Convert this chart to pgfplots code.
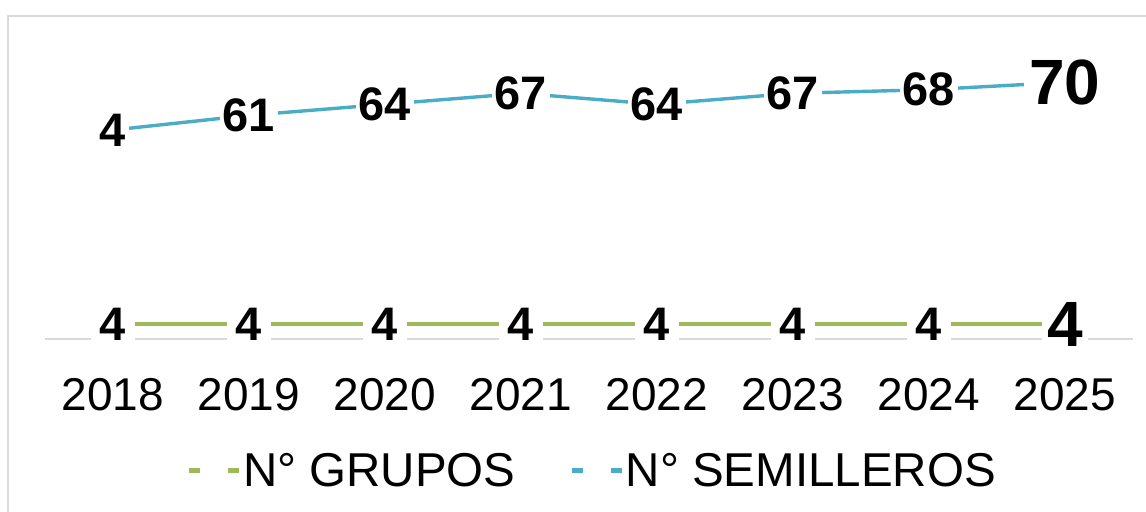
\documentclass[border=0pt]{standalone}
\usepackage{pgfplots}
\pgfplotsset{compat=1.18}
\usepackage{fontspec}
\setmainfont{Liberation Sans}
\definecolor{cgreen}{HTML}{9BBB59}
\definecolor{cblue}{HTML}{4BACC6}
\definecolor{cgray}{HTML}{D9D9D9}
\newcommand\lblfont{\fontsize{47bp}{47bp}\selectfont\bfseries}
\newcommand\bigfont{\fontsize{64bp}{64bp}\selectfont\bfseries}
\newcommand\tickfont{\fontsize{46bp}{46bp}\selectfont}
\newcommand\legfont{\fontsize{47.5bp}{47.5bp}\selectfont}
\begin{document}
\begin{tikzpicture}[x=1bp,y=1bp]
\useasboundingbox (0,0) rectangle (1146,512);
\draw[cgray, line width=1.5bp] (8,-20) -- (8,496) -- (1170,496);
\begin{axis}[
  at={(45bp,173bp)}, anchor=south west,
  scale only axis, width=1088bp, height=293.33bp,
  xmin=-0.5, xmax=7.5, ymin=0, ymax=80,
  clip=false,
  hide y axis,
  axis x line*=bottom,
  x axis line style={cgray, line width=2bp},
  xtick={0,...,7},
  xticklabels={2018,2019,2020,2021,2022,2023,2024,2025},
  major tick length=0pt,
  xticklabel style={font=\tickfont, anchor=north, inner sep=0pt, yshift=-39bp},
  legend style={at={(0.502,-0.447)}, anchor=center, draw=none, fill=none,
    legend columns=2, font=\legfont,
    /tikz/every even column/.append style={column sep=54bp},
    nodes={inner sep=0pt, text depth=0pt}},
  legend cell align=left,
  legend image code/.code={\draw[#1, line width=5bp, dash pattern=on 11bp off 28bp] (0bp,0bp) -- (50bp,0bp); \path (52bp,0bp);},
]
\addplot[cgreen, line width=4.2bp, mark=none] coordinates {(0,4) (1,4) (2,4) (3,4) (4,4) (5,4) (6,4) (7,4)};
\addlegendentry{N° GRUPOS}
\addplot[cblue, line width=3.4bp, mark=none] coordinates {(0,57) (1,61) (2,64) (3,67) (4,64) (5,67) (6,68) (7,70)};
\addlegendentry{N° SEMILLEROS}
% labels
\addplot[forget plot, draw=none, mark=none, nodes near coords, point meta=explicit symbolic,
  every node near coord/.style={anchor=center, fill=white, inner xsep=9bp, inner ysep=2bp, font=\lblfont}]
  coordinates {(0,4)[4] (1,4)[4] (2,4)[4] (3,4)[4] (4,4)[4] (5,4)[4] (6,4)[4]};
\addplot[forget plot, draw=none, mark=none, nodes near coords, point meta=explicit symbolic,
  every node near coord/.style={anchor=center, fill=white, inner xsep=3bp, inner ysep=2bp, font=\lblfont}]
  coordinates {(0,57)[4] (1,61)[61] (2,64)[64] (3,67)[67] (4,64)[64] (5,67)[67] (6,68)[68]};
\addplot[forget plot, draw=none, mark=none, nodes near coords, point meta=explicit symbolic,
  every node near coord/.style={anchor=center, fill=white, inner xsep=5bp, inner ysep=2bp, font=\bigfont}]
  coordinates {(7,4)[4] (7,70)[70]};
\end{axis}
\end{tikzpicture}
\end{document}
